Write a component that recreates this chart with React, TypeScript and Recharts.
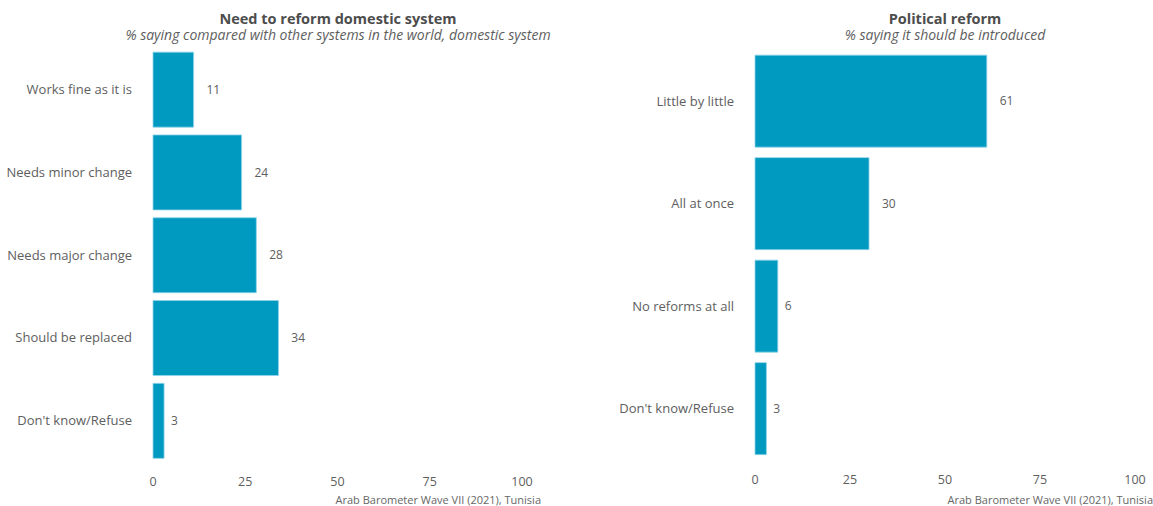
import { Bar, BarChart, LabelList, XAxis, YAxis } from "recharts";

const reformCategories = [
  "Works fine as it is",
  "Needs minor change",
  "Needs major change",
  "Should be replaced",
  "Don't know/Refuse",
];
const reformValues = [11, 24, 28, 34, 3];

const politicalCategories = [
  "Little by little",
  "All at once",
  "No reforms at all",
  "Don't know/Refuse",
];
const politicalValues = [61, 30, 6, 3];

const xTicks = [0, 25, 50, 75, 100];

const FONT = "'Open Sans', sans-serif";
const BAR_FILL = "#0099c0";
const TEXT = "#5e5e5e";

type PanelProps = {
  left: number;
  width: number;
  yAxisWidth: number;
  marginRight: number;
  marginTop: number;
  marginBottom: number;
  title: string;
  subtitle: string;
  titleCenter: number;
  captionRight: number;
  categories: string[];
  values: number[];
};

// value label pushed out by roughly its own width (like hjust = -1)
const ValueLabel = (props: any) => {
  const { x, y, width, height, value } = props;
  const w = String(value).length * 6.6;
  return (
    <text
      x={x + width + w * 0.9 + 1}
      y={y + height / 2}
      dy="0.35em"
      fill={TEXT}
      fontSize={12}
      fontFamily={FONT}
    >
      {value}
    </text>
  );
};

const Panel = (p: PanelProps) => {
  const data = p.categories.map((name, i) => ({ name, value: p.values[i] }));
  return (
    <div style={{ position: "absolute", left: p.left, top: 0, width: p.width, height: 506 }}>
      <BarChart
        width={p.width}
        height={506}
        data={data}
        layout="vertical"
        barCategoryGap="5%"
        margin={{ top: p.marginTop, right: p.marginRight, bottom: p.marginBottom, left: 0 }}
      >
        <XAxis
          type="number"
          domain={[0, 100]}
          ticks={xTicks}
          height={30}
          axisLine={false}
          tickLine={false}
          tickSize={0}
          tickMargin={15}
          interval={0}
          tick={{ fill: TEXT, fontSize: 12.5, fontFamily: FONT }}
        />
        <YAxis
          type="category"
          dataKey="name"
          width={p.yAxisWidth}
          axisLine={false}
          tickLine={false}
          tickSize={0}
          tickMargin={21}
          interval={0}
          tick={{ fill: TEXT, fontSize: 13, fontFamily: FONT }}
        />
        <Bar
          dataKey="value"
          fill={BAR_FILL}
          stroke="#8fd3e8"
          strokeWidth={0.8}
          isAnimationActive={false}
        >
          <LabelList dataKey="value" content={<ValueLabel />} />
        </Bar>
      </BarChart>
      <div
        style={{
          position: "absolute",
          left: p.titleCenter - p.left - 300,
          width: 600,
          top: 10,
          textAlign: "center",
          fontFamily: FONT,
        }}
      >
        <div style={{ fontWeight: 700, fontSize: 14.5, lineHeight: "17px", color: "#4d4d4d" }}>{p.title}</div>
        <div style={{ fontStyle: "italic", fontSize: 14, lineHeight: "15px", color: "#5e5e5e" }}>{p.subtitle}</div>
      </div>
      <div
        style={{
          position: "absolute",
          right: p.left + p.width - p.captionRight,
          top: 492,
          fontFamily: FONT,
          fontSize: 11,
          color: "#666",
          whiteSpace: "nowrap",
        }}
      >
        Arab Barometer Wave VII (2021), Tunisia
      </div>
    </div>
  );
};

export default function App() {
  return (
    <div style={{ position: "absolute", left: 0, top: 0, width: 1153, height: 506, background: "#fff", overflow: "hidden" }}>
      <Panel
        left={0}
        width={576}
        yAxisWidth={153}
        marginRight={54}
        marginTop={48}
        marginBottom={14}
        title="Need to reform domestic system"
        subtitle="% saying compared with other systems in the world, domestic system"
        titleCenter={338}
        captionRight={541}
        categories={reformCategories}
        values={reformValues}
      />
      <Panel
        left={576}
        width={577}
        yAxisWidth={179}
        marginRight={18}
        marginTop={50}
        marginBottom={16}
        title="Political reform"
        subtitle="% saying it should be introduced"
        titleCenter={945}
        captionRight={1153}
        categories={politicalCategories}
        values={politicalValues}
      />
    </div>
  );
}
